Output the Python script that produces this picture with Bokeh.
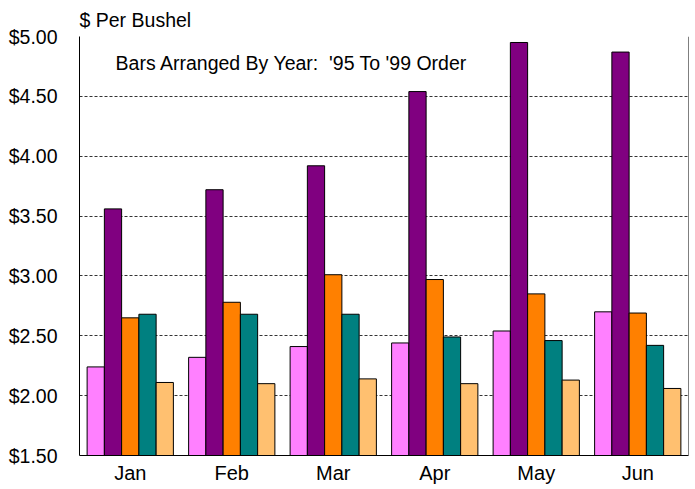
from bokeh.plotting import figure
from bokeh.models import ColumnDataSource, FactorRange, FixedTicker, NumeralTickFormatter, Label, Span
from bokeh.transform import dodge
from bokeh.embed import file_html
from bokeh.resources import INLINE

months = ["Jan", "Feb", "Mar", "Apr", "May", "Jun"]
years = ["'95", "'96", "'97", "'98", "'99"]
y95 = [2.24, 2.32, 2.41, 2.44, 2.54, 2.70]
y96 = [3.56, 3.72, 3.92, 4.54, 4.95, 4.87]
y97 = [2.65, 2.78, 3.01, 2.97, 2.85, 2.69]
y98 = [2.68, 2.68, 2.68, 2.49, 2.46, 2.42]
y99 = [2.11, 2.10, 2.14, 2.10, 2.13, 2.06]
y_ticks = [1.5, 2.0, 2.5, 3.0, 3.5, 4.0, 4.5, 5.0]

colors = ["#FF80FF", "#800080", "#FF8000", "#008080", "#FFC070"]
series = [y95, y96, y97, y98, y99]
keys = ["y95", "y96", "y97", "y98", "y99"]

src = ColumnDataSource(dict(month=months, **{k: v for k, v in zip(keys, series)}))

FONT = "Liberation Sans"
FS = "19.5px"

p = figure(width=690, height=489, x_range=FactorRange(*months, range_padding=0),
           y_range=(1.5, 5.0), output_backend="svg", toolbar_location=None,
           min_border_left=79, min_border_right=2, min_border_top=36, min_border_bottom=34)

bw = 0.17
offsets = [-2 * bw, -bw, 0, bw, 2 * bw]
for k, c, off in zip(keys, colors, offsets):
    p.vbar(x=dodge("month", off, range=p.x_range), top=k, bottom=1.5, width=bw,
           source=src, fill_color=c, line_color="black", line_width=1)

p.outline_line_color = None
p.background_fill_color = "white"
p.border_fill_color = "white"

p.yaxis.ticker = FixedTicker(ticks=y_ticks)
p.yaxis.formatter = NumeralTickFormatter(format="$0.00")
p.yaxis.major_tick_line_color = None
p.yaxis.minor_tick_line_color = None
p.yaxis.axis_line_color = "black"
p.yaxis.major_label_standoff = 16
p.yaxis.major_label_text_font = FONT
p.yaxis.major_label_text_font_size = FS
p.yaxis.major_label_text_color = "black"

p.xaxis.major_tick_line_color = None
p.xaxis.minor_tick_line_color = None
p.xaxis.axis_line_color = "black"
p.xaxis.major_label_standoff = 0
p.xaxis.major_label_text_font = FONT
p.xaxis.major_label_text_font_size = "20px"
p.xaxis.major_label_text_color = "black"

p.xgrid.grid_line_color = None
p.ygrid.grid_line_color = "black"
p.ygrid.grid_line_dash = "3 2"
p.ygrid.grid_line_alpha = 0.8
p.ygrid.grid_line_width = 1

p.title.text = "$ Per Bushel"
p.title.align = "left"
p.title.text_font = FONT
p.title.text_font_size = FS
p.title.text_font_style = "normal"
p.title.text_color = "black"
p.title.standoff = 11

p.add_layout(Span(location=6, dimension="height", line_color="black", line_width=1))

p.add_layout(Label(x=0.355, y=4.775, text="Bars Arranged By Year:\u00a0 '95 To '99 Order",
                   text_font=FONT, text_font_size=FS, text_baseline="middle",
                   text_color="black"))

open("out.html", "w").write(file_html(p, INLINE))
